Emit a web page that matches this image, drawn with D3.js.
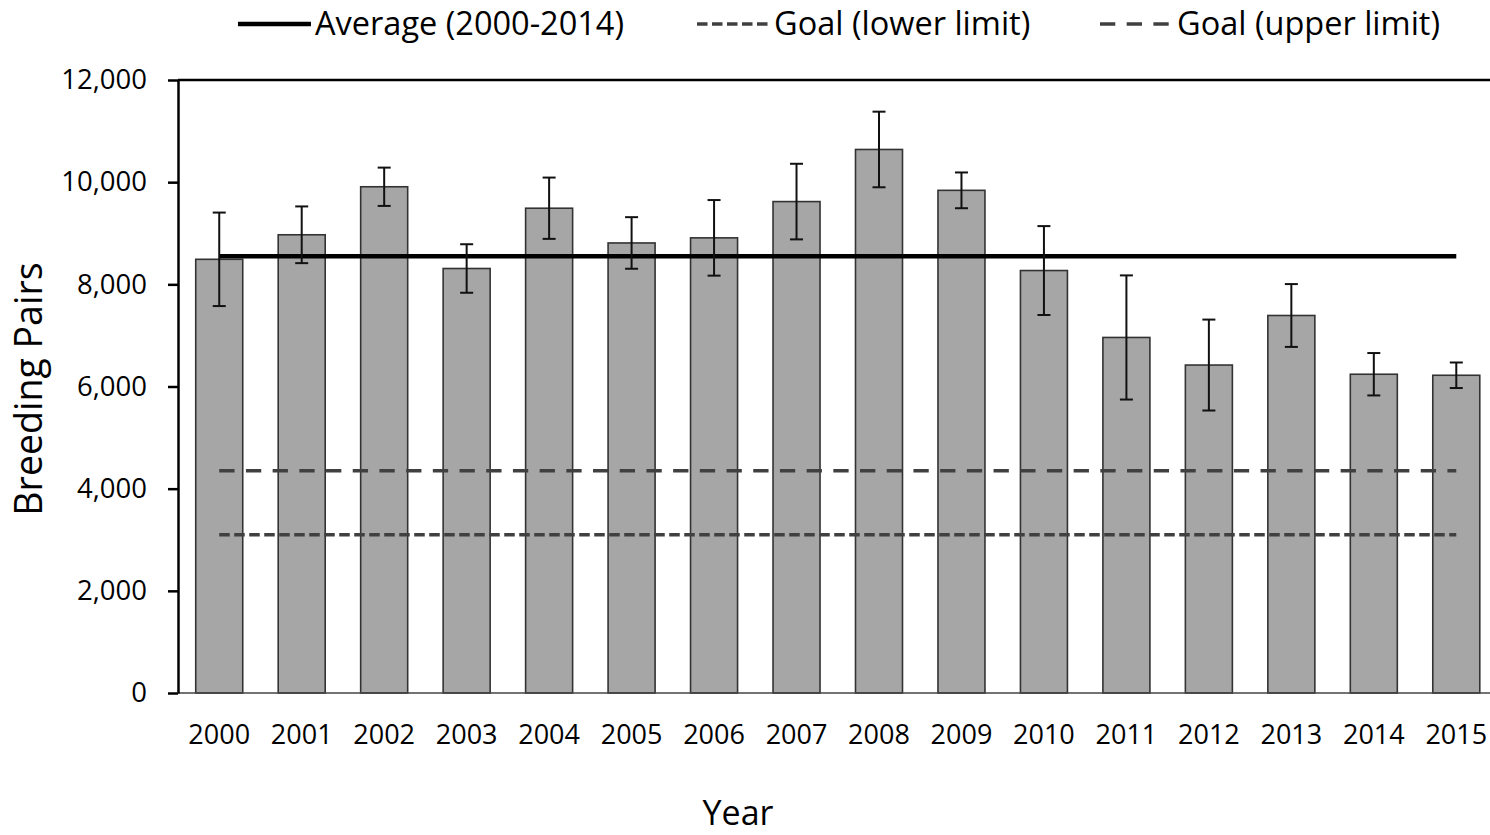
<!DOCTYPE html>
<html>
<head>
<meta charset="utf-8">
<script src="https://cdn.jsdelivr.net/npm/d3@7/dist/d3.min.js"></script>
<style>
  html, body { margin: 0; padding: 0; background: #fff; }
  svg { display: block; }
  text { font-family: "Open Sans", "Noto Sans", sans-serif; fill: #000; }
</style>
</head>
<body>
<svg id="chart" width="1490" height="835"></svg>
<script>
// Breeding pairs per year with survey error (±)
const years = ["2000","2001","2002","2003","2004","2005","2006","2007",
               "2008","2009","2010","2011","2012","2013","2014","2015"];
const pairs = [8490, 8970, 9910, 8310, 9490, 8810, 8910, 9620,
               10640, 9840, 8270, 6960, 6420, 7390, 6240, 6220];
const errors = [915, 555, 375, 475, 600, 505, 740, 740,
                740, 350, 870, 1215, 890, 615, 415, 250];

// Management goal range
const goalLower = 3100;
const goalUpper = 4350;

// Average over the 2000–2014 reference period
const averageYears = years.slice(0, 15);
const average = d3.mean(pairs.slice(0, averageYears.length));

const yTicks = [0, 2000, 4000, 6000, 8000, 10000, 12000];

const legendItems = [
  { label: "Average (2000-2014)", kind: "avg",   x: 238 },
  { label: "Goal (lower limit)",  kind: "lower", x: 697 },
  { label: "Goal (upper limit)",  kind: "upper", x: 1100 }
];

(function draw() {
  const W = 1490;
  const plotLeft = 178, plotTop = 80, plotBottom = 693;
  const step = 82.47;
  const plotRight = plotLeft + step * years.length;

  const svg = d3.select("#chart");

  const x = d3.scaleBand()
    .domain(years)
    .range([plotLeft, plotRight])
    .paddingInner(0.43)
    .paddingOuter(0.215);

  const y = d3.scaleLinear()
    .domain([0, 12000])
    .range([plotBottom, plotTop]);

  const lineStyles = {
    avg:   { stroke: "#000",    width: 4.5, dash: null },
    lower: { stroke: "#404040", width: 3.5, dash: "10.5,4.5" },
    upper: { stroke: "#404040", width: 3.5, dash: "15.3,11.4" }
  };

  // Top boundary at the maximum of the value axis
  svg.append("line")
    .attr("x1", plotLeft).attr("x2", W)
    .attr("y1", y(12000)).attr("y2", y(12000))
    .attr("stroke", "#000").attr("stroke-width", 2.5);

  // Bars
  svg.append("g").selectAll("rect")
    .data(years)
    .join("rect")
    .attr("x", d => x(d))
    .attr("y", (d, i) => y(pairs[i]))
    .attr("width", x.bandwidth())
    .attr("height", (d, i) => y(0) - y(pairs[i]))
    .attr("fill", "#a6a6a6")
    .attr("stroke", "#333")
    .attr("stroke-width", 1.6);

  // X axis
  const xAxis = svg.append("g")
    .attr("transform", `translate(0,${plotBottom})`)
    .call(d3.axisBottom(x).tickSize(0).tickPadding(32));
  xAxis.select(".domain").remove();
  xAxis.append("line")
    .attr("x1", plotLeft).attr("x2", W)
    .attr("y1", 0).attr("y2", 0)
    .attr("stroke", "#444").attr("stroke-width", 1.6);
  xAxis.selectAll("text")
    .style("font-size", "27px")
    .style("font-family", "'Open Sans', sans-serif")
    .attr("fill", "#000");

  // Reference lines spanning first to last category
  const cx = d => x(d) + x.bandwidth() / 2;
  const refLines = [
    { value: average,   kind: "avg" },
    { value: goalUpper, kind: "upper" },
    { value: goalLower, kind: "lower" }
  ];
  svg.append("g").selectAll("line")
    .data(refLines)
    .join("line")
    .attr("x1", cx(years[0]))
    .attr("x2", cx(years[years.length - 1]))
    .attr("y1", d => y(d.value))
    .attr("y2", d => y(d.value))
    .attr("stroke", d => lineStyles[d.kind].stroke)
    .attr("stroke-width", d => lineStyles[d.kind].width)
    .attr("stroke-dasharray", d => lineStyles[d.kind].dash);

  // Error bars
  const capHalf = 6.5;
  const eb = svg.append("g")
    .attr("stroke", "#111")
    .attr("stroke-width", 2)
    .selectAll("g")
    .data(years)
    .join("g");
  eb.append("line")
    .attr("x1", d => cx(d)).attr("x2", d => cx(d))
    .attr("y1", (d, i) => y(pairs[i] + errors[i]))
    .attr("y2", (d, i) => y(pairs[i] - errors[i]));
  eb.append("line")
    .attr("x1", d => cx(d) - capHalf).attr("x2", d => cx(d) + capHalf)
    .attr("y1", (d, i) => y(pairs[i] + errors[i]))
    .attr("y2", (d, i) => y(pairs[i] + errors[i]));
  eb.append("line")
    .attr("x1", d => cx(d) - capHalf).attr("x2", d => cx(d) + capHalf)
    .attr("y1", (d, i) => y(pairs[i] - errors[i]))
    .attr("y2", (d, i) => y(pairs[i] - errors[i]));

  // Y axis
  const yAxis = svg.append("g")
    .attr("transform", `translate(${plotLeft},0)`)
    .call(d3.axisLeft(y)
      .tickValues(yTicks)
      .tickFormat(d3.format(","))
      .tickSize(10)
      .tickSizeOuter(0)
      .tickPadding(21));
  yAxis.select(".domain").attr("stroke", "#000").attr("stroke-width", 2.5);
  yAxis.selectAll(".tick line").attr("stroke", "#000").attr("stroke-width", 2.5);
  yAxis.selectAll("text")
    .style("font-size", "27.5px")
    .style("font-family", "'Open Sans', sans-serif")
    .attr("fill", "#000");

  // Axis titles
  svg.append("text")
    .attr("transform", "translate(42,389) rotate(-90)")
    .attr("text-anchor", "middle")
    .style("font-size", "37.5px")
    .text("Breeding Pairs");

  svg.append("text")
    .attr("x", 738).attr("y", 825)
    .attr("text-anchor", "middle")
    .style("font-size", "34px")
    .text("Year");

  // Legend
  const legend = svg.append("g").selectAll("g")
    .data(legendItems)
    .join("g")
    .attr("transform", d => `translate(${d.x},24)`);
  legend.append("line")
    .attr("x1", 0).attr("x2", 73)
    .attr("y1", 0).attr("y2", 0)
    .attr("stroke", d => lineStyles[d.kind].stroke)
    .attr("stroke-width", d => lineStyles[d.kind].width)
    .attr("stroke-dasharray", d => lineStyles[d.kind].dash);
  legend.append("text")
    .attr("x", 77)
    .attr("y", 11)
    .style("font-size", "32.5px")
    .text(d => d.label);
})();
</script>
</body>
</html>
